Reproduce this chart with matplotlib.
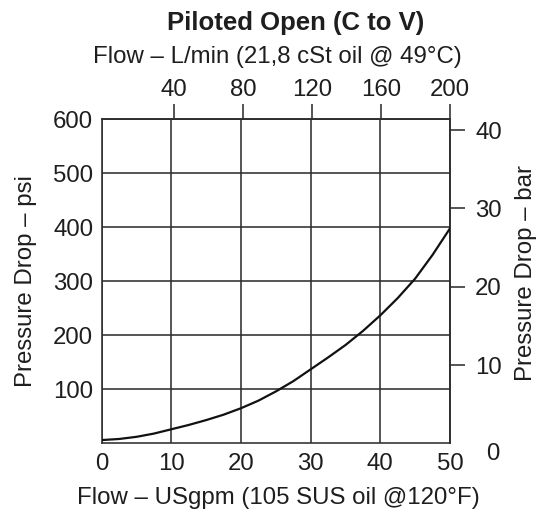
import matplotlib
matplotlib.use("Agg")
import matplotlib.pyplot as plt
from matplotlib.ticker import FixedLocator, FixedFormatter

plt.rcParams['font.family'] = ['Liberation Sans', 'DejaVu Sans']

# Data
flow_gpm = [0, 2.5, 5, 7.5, 10, 12.5, 15, 17.5, 20, 22.5, 25, 27.5, 30,
            32.5, 35, 37.5, 40, 42.5, 45, 47.5, 50]
pressure_psi = [6, 8, 12, 18, 26, 34, 43, 53, 65, 79, 96, 115, 137,
                159, 182, 208, 237, 269, 305, 349, 398]

psi_ticks = [100, 200, 300, 400, 500, 600]
gpm_ticks = [0, 10, 20, 30, 40, 50]
lpm_ticks = [40, 80, 120, 160, 200]
bar_ticks = [10, 20, 30, 40]

title = "Piloted Open (C to V)"
top_label = "Flow \u2013 L/min (21,8 cSt oil @ 49\u00b0C)"
bottom_label = "Flow \u2013 USgpm (105 SUS oil @120\u00b0F)"
left_label = "Pressure Drop \u2013 psi"
right_label = "Pressure Drop \u2013 bar"

PSI_PER_BAR = 14.5

W, H = 547, 511
fig = plt.figure(figsize=(W / 100, H / 100), dpi=100)
ax = fig.add_axes([101.7 / W, 1 - 443.3 / H, (450 - 101.7) / W, (443.3 - 119.3) / H])

gc = '#2e2e2e'
tc = '#1e1e1e'
fs = 17.3
lw = 1.15

ax.plot(flow_gpm, pressure_psi, color='#111111', lw=1.6, zorder=3,
        solid_capstyle='round', solid_joinstyle='round')
ax.set_xlim(0, 50)
ax.set_ylim(0, 600)
ax.set_xticks(gpm_ticks)
ax.set_yticks(psi_ticks)
ax.grid(True, color=gc, lw=lw)
for s in ax.spines.values():
    s.set_color(gc)
    s.set_linewidth(lw)
ax.tick_params(axis='both', length=0, labelsize=fs, colors=tc)
ax.tick_params(axis='x', pad=7)
ax.tick_params(axis='y', pad=6)

# top axis (L/min), hand-drawn scale: -2 .. 200 across the frame
def g2l(x):
    return -2 + x * 202.0 / 50.0

def l2g(l):
    return (l + 2) * 50.0 / 202.0

top = ax.secondary_xaxis('top', functions=(g2l, l2g))
top.set_xticks(lpm_ticks)
top.tick_params(axis='x', direction='out', length=11, width=lw,
                labelsize=fs, pad=2, colors=tc)
top.tick_params(axis='x', color=gc)
top.spines['top'].set_color(gc)
top.spines['top'].set_linewidth(lw)

# right axis (bar)
right = ax.secondary_yaxis('right', functions=(lambda p: p / PSI_PER_BAR,
                                               lambda b: b * PSI_PER_BAR))
right.set_yticks(bar_ticks)
right.tick_params(axis='y', direction='out', length=11, width=lw,
                  labelsize=fs, pad=7, colors=tc)
right.tick_params(axis='y', color=gc)
right.yaxis.set_minor_locator(FixedLocator([0]))
right.yaxis.set_minor_formatter(FixedFormatter(['0']))
right.tick_params(axis='y', which='minor', length=0, pad=26, labelsize=fs,
                  colors=tc)
right.spines['right'].set_color(gc)
right.spines['right'].set_linewidth(lw)
for lab in right.yaxis.get_minorticklabels():
    lab.set_va('top')

fig.text(296 / W, 1 - 23 / H, title, ha='center', va='center',
         fontsize=18.5, fontweight='bold', color=tc)
fig.text(277 / W, 1 - 57.5 / H, top_label, ha='center', va='center',
         fontsize=fs, color=tc)
fig.text(278.7 / W, 1 - 498 / H, bottom_label, ha='center', va='center',
         fontsize=fs, color=tc)
fig.text(26 / W, 1 - 281 / H, left_label, ha='center', va='center',
         rotation=90, fontsize=fs, color=tc)
fig.text(526 / W, 1 - 273 / H, right_label, ha='center', va='center',
         rotation=90, fontsize=fs, color=tc)

fig.savefig('out.png', dpi=100, facecolor='white')
